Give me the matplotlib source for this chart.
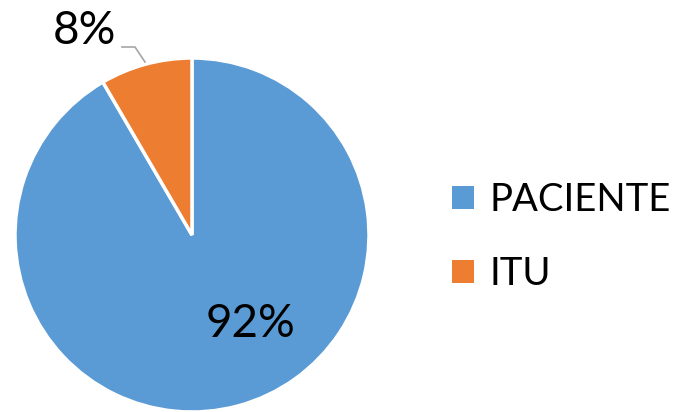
import matplotlib.pyplot as plt

labels = ['PACIENTE', 'ITU']
values = [91.6, 8.4]
pct_text = ['92%', '8%']
colors = ['#5B9BD5', '#ED7D31']

plt.rcParams['font.family'] = ['Lato', 'DejaVu Sans']

W, H = 687, 412
cx, cy, r = 192, 235, 177   # pie centre and radius in pixels


def px(x, y):
    # pixel position -> data units of the axes
    return (x - cx) / r, (cy - y) / r


fig = plt.figure(figsize=(W / 100, H / 100), dpi=100)
ax = fig.add_axes([0, 0, 1, 1])
wedges, _ = ax.pie(values, colors=colors, startangle=90, counterclock=False,
                   radius=1, wedgeprops=dict(edgecolor='white', linewidth=2.5))
ax.set_xlim(-cx / r, (W - cx) / r)
ax.set_ylim((cy - H) / r, cy / r)
ax.set_aspect('auto')
ax.axis('off')

# data labels
ax.text(*px(250, 324), pct_text[0], fontsize=33, ha='center', va='center')
ax.text(*px(84, 31), pct_text[1], fontsize=33, ha='center', va='center')
p0, p1, p2 = px(122, 47), px(135, 47), px(145, 62)
ax.plot([p0[0], p1[0], p2[0]], [p0[1], p1[1], p2[1]], color='#A5A5A5', lw=1.2)

leg = ax.legend(wedges, labels, loc='center left', bbox_to_anchor=(452 / W, 1 - 237 / H),
                frameon=False, fontsize=27.5, handlelength=0.58, handleheight=0.58,
                handletextpad=0.4, labelspacing=1.0, borderaxespad=0, borderpad=0)
for h in leg.legend_handles:
    h.set_edgecolor('none')

fig.savefig('out.png', dpi=100)
